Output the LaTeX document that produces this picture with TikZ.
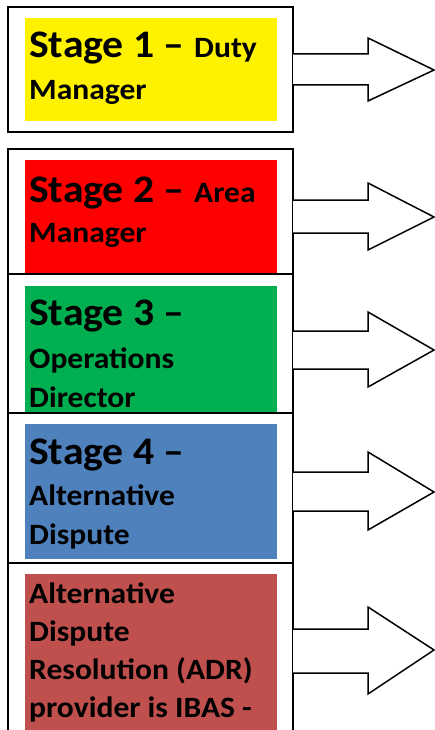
\documentclass[tikz,border=0pt]{standalone}
\usepackage{fontspec}
\setmainfont{Carlito}[FakeStretch=1.07]
\newcommand{\stagefont}{\fontsize{39}{39}\selectfont}

\begin{document}
\begin{tikzpicture}[x=1pt,y=-1pt,
	frame/.style={draw,line width=1.5pt},
	stagetext/.style={anchor=base west,align=left,inner sep=0pt,font=\bfseries\fontsize{29.5}{39}\selectfont},
	blockarrow/.style={draw,line width=1.5pt,fill=white,line join=miter}]
			\useasboundingbox (0,0) rectangle (435,730);
			\clip (0,0) rectangle (435,730);
			% stage boxes
			\draw[frame] (8,7) rectangle (293,132);
			\fill[yellow] (25,18) rectangle (277,121);
			\draw[frame] (8,149) rectangle (293,274);
			\fill[red] (25,160) rectangle (277,273);
			\draw[frame] (8,274) rectangle (293,413);
			\fill[fill={rgb,255:red,0;green,176;blue,80}] (25,286) rectangle (277,413);
			\draw[frame] (8,413) rectangle (293,563);
			\fill[fill={rgb,255:red,79;green,129;blue,189}] (25,424) rectangle (277,559);
			\draw[frame] (8,563) rectangle (293,760);
			\fill[fill={rgb,255:red,192;green,80;blue,77}] (25,574) rectangle (277,760);
			% texts, placed at the baseline of their last line
			\node[stagetext] (stage1) at (29,100) {{\stagefont Stage 1 –\ }Duty\\[3pt]Manager};
			\node[stagetext] (stage2) at (29,242) {{\stagefont Stage 2 –\ }Area\\[1pt]Manager};
			\node[stagetext] (stage3) at (29,407) {{\stagefont Stage 3 –}\\[4pt]Operations\\Director};
			\node[stagetext] (stage4) at (29,544) {{\stagefont Stage 4 –}\\[1.5pt]Alternative\\Dispute};
			\node[stagetext,font=\bfseries\fontsize{29.5}{38}\selectfont] (adr) at (29,717) {Alternative\\Dispute\\Resolution (ADR)\\provider is IBAS -};
			% arrows
			\draw[blockarrow] (293,54) -- (368,54) -- (368,38) -- (434,70) -- (368,101) -- (368,85) -- (293,85);
			\draw[blockarrow] (293,200) -- (368,200) -- (368,183) -- (434,217) -- (368,250) -- (368,233) -- (293,233);
			\draw[blockarrow] (293,331) -- (368,331) -- (368,312) -- (434,350) -- (368,387) -- (368,369) -- (293,369);
			\draw[blockarrow] (293,472) -- (368,472) -- (368,452) -- (434,492) -- (368,530) -- (368,511) -- (293,511);
			\draw[blockarrow] (293,629) -- (368,629) -- (368,607) -- (434,650) -- (368,694) -- (368,673) -- (293,673);
\end{tikzpicture}
\end{document}
